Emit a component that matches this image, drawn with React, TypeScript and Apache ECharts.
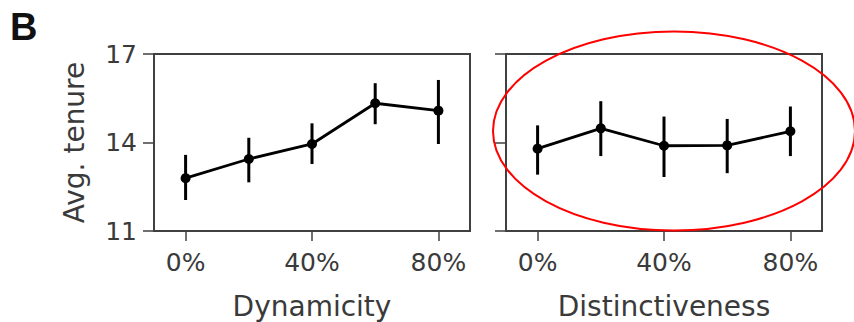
import React, { useEffect, useRef } from "react";
import * as echarts from "echarts";

const categories = ["0%", "20%", "40%", "60%", "80%"];
const dynMean = [12.79, 13.44, 13.95, 15.33, 15.08];
const dynLow = [12.05, 12.65, 13.27, 14.62, 13.95];
const dynHigh = [13.58, 14.16, 14.65, 16.01, 16.12];
const disMean = [13.79, 14.48, 13.89, 13.9, 14.38];
const disLow = [12.91, 13.54, 12.83, 12.96, 13.54];
const disHigh = [14.58, 15.4, 14.88, 14.8, 15.22];
const yMin = 11;
const yMax = 17;
const yStep = 3;
const xTitles = ["Dynamicity", "Distinctiveness"];
const yTitle = "Avg. tenure";
const panelLabel = "B";

const FONT = "DejaVu Sans";
const TXT = "#3a3a3a";
const AXC = "#404040";

export default function App() {
  const ref = useRef<HTMLDivElement>(null);
  useEffect(() => {
    if (!ref.current) return;
    const chart = echarts.init(ref.current, undefined, { renderer: "svg" });
    const errSeries = (idx: number, lo: number[], hi: number[]) => ({
      type: "custom",
      xAxisIndex: idx,
      yAxisIndex: idx,
      encode: { x: 0, y: [1, 2] },
      data: categories.map((_, i) => [i, lo[i], hi[i]]),
      z: 3,
      renderItem: (params: any, api: any) => {
        const x = api.value(0);
        const p1 = api.coord([x, api.value(1)]);
        const p2 = api.coord([x, api.value(2)]);
        return {
          type: "line",
          shape: { x1: p1[0], y1: p1[1], x2: p2[0], y2: p2[1] },
          style: { stroke: "#000", lineWidth: 3 },
        };
      },
    });
    const lineSeries = (idx: number, vals: number[]) => ({
      type: "line",
      xAxisIndex: idx,
      yAxisIndex: idx,
      data: vals,
      symbol: "circle",
      symbolSize: 10,
      itemStyle: { color: "#000" },
      lineStyle: { color: "#000", width: 2.8 },
      z: 4,
    });
    const xAxis = (idx: number) => ({
      type: "category",
      gridIndex: idx,
      data: categories,
      boundaryGap: true,
      axisLine: { show: true, lineStyle: { color: AXC, width: 2 } },
      axisTick: {
        show: true,
        interval: 1,
        alignWithLabel: true,
        length: 10,
        lineStyle: { color: AXC, width: 1.5 },
      },
      axisLabel: {
        interval: 1,
        margin: 19,
        fontFamily: FONT,
        fontSize: 25,
        color: TXT,
      },
      name: xTitles[idx],
      nameLocation: "middle",
      nameGap: 61,
      nameTextStyle: { fontFamily: FONT, fontSize: 28, lineHeight: 28, color: TXT },
      splitLine: { show: false },
    });
    const yAxis = (idx: number) => ({
      type: "value",
      gridIndex: idx,
      min: yMin,
      max: yMax,
      interval: yStep,
      axisLine: { show: true, lineStyle: { color: AXC, width: 2 } },
      axisTick: { show: true, length: 11, lineStyle: { color: AXC, width: 1.5 } },
      axisLabel: {
        show: idx === 0,
        margin: 17,
        fontFamily: FONT,
        fontSize: 25,
        color: TXT,
      },
      splitLine: { show: false },
      name: idx === 0 ? yTitle : "",
      nameLocation: "middle",
      nameGap: 66,
      nameRotate: 90,
      nameTextStyle: { fontFamily: FONT, fontSize: 28, color: TXT },
    });
    chart.setOption({
      animation: false,
      backgroundColor: "#fff",
      grid: [
        {
          left: 154, top: 54, width: 316, height: 177,
          show: true, borderColor: AXC, borderWidth: 2,
          containLabel: false, outerBoundsMode: "none",
        },
        {
          left: 506, top: 54, width: 316, height: 177,
          show: true, borderColor: AXC, borderWidth: 2,
          containLabel: false, outerBoundsMode: "none",
        },
      ],
      xAxis: [xAxis(0), xAxis(1)],
      yAxis: [yAxis(0), yAxis(1)],
      series: [
        errSeries(0, dynLow, dynHigh),
        lineSeries(0, dynMean),
        errSeries(1, disLow, disHigh),
        lineSeries(1, disMean),
      ],
      graphic: [
        {
          type: "text",
          left: 10,
          top: 8,
          style: {
            text: panelLabel,
            font: "bold 38px 'Liberation Sans'",
            fill: "#111",
          },
        },
        {
          type: "ellipse",
          z: 100,
          shape: { cx: 674, cy: 131, rx: 181, ry: 99.5 },
          style: { fill: "none", stroke: "#ff0000", lineWidth: 2 },
        },
      ],
    });
    return () => chart.dispose();
  }, []);
  return (
    <div
      ref={ref}
      style={{ position: "fixed", left: 0, top: 0, width: 854, height: 322 }}
    />
  );
}
